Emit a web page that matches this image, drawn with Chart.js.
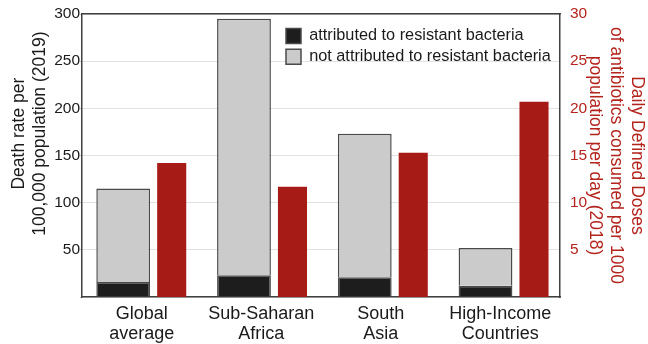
<!DOCTYPE html>
<html>
<head>
<meta charset="utf-8">
<script src="https://cdn.jsdelivr.net/npm/chart.js@4.4.1/dist/chart.umd.min.js"></script>
<style>
  html, body { margin: 0; padding: 0; background: #fff; }
  #wrap { width: 648px; height: 344px; }
</style>
</head>
<body>
<div id="wrap"><canvas id="chart"></canvas></div>
<script>
// data
const categories = [["Global", "average"], ["Sub-Saharan", "Africa"], ["South", "Asia"], ["High-Income", "Countries"]];
const resistantDeaths = [16, 23, 21, 12];     // black part
const otherDeaths = [99, 272, 152, 40];       // grey part, stacked on top
const antibioticDoses = [14.2, 11.7, 15.3, 20.7]; // red bars, right axis
const seriesNames = ["attributed to resistant bacteria", "not attributed to resistant bacteria", "antibiotic use"];

const font = "'Liberation Sans', Arial, sans-serif";
const red = "#b3241d";
const frame = "#404040";

// bars sit on a hidden numeric axis so each pair can be a bit right of the label
const points = (vals) => vals.map((v, i) => ({ x: i, y: v }));

// move the legend into the upper right of the plot
const legendMover = {
  id: "legendMover",
  afterLayout(chart) {
    const lg = chart.legend;
    const area = chart.chartArea;
    const w = lg.width;
    lg.left = area.left + 199.5;
    lg.right = lg.left + w;
    lg.top = area.top + 9.3;
    lg.bottom = lg.top + 60;
  }
};

// left title sits a little above the middle of the axis in the original
const leftPad = " ".repeat(9);

const ctx = document.getElementById("chart").getContext("2d");
new Chart(ctx, {
  type: "bar",
  data: {
    labels: categories,
    datasets: [
      {
        label: seriesNames[0],
        data: points(resistantDeaths),
        backgroundColor: "#1d1d1d",
        borderColor: "#4a4a4a",
        borderWidth: 1.5,
        stack: "deaths",
        xAxisID: "xb",
        yAxisID: "y",
        categoryPercentage: 0.803,
        barPercentage: 1.11
      },
      {
        label: seriesNames[1],
        data: points(otherDeaths),
        backgroundColor: "#cbcbcb",
        borderColor: "#4a4a4a",
        borderWidth: 1.5,
        stack: "deaths",
        xAxisID: "xb",
        yAxisID: "y",
        categoryPercentage: 0.803,
        barPercentage: 1.11
      },
      {
        label: seriesNames[2],
        data: points(antibioticDoses),
        backgroundColor: "#a71b17",
        borderWidth: 0,
        stack: "doses",
        xAxisID: "xb",
        yAxisID: "y2",
        categoryPercentage: 0.803,
        barPercentage: 0.6
      }
    ]
  },
  options: {
    responsive: true,
    maintainAspectRatio: false,
    animation: false,
    layout: { padding: 0 },
    plugins: {
      tooltip: { enabled: false },
      legend: {
        position: "chartArea",
        align: "start",
        labels: {
          boxWidth: 15,
          boxHeight: 15,
          padding: 4.5,
          color: "#1a1a1a",
          font: { family: font, size: 16.3, lineHeight: 1 },
          filter: (item) => item.datasetIndex < 2
        }
      }
    },
    scales: {
      xb: {
        type: "linear",
        display: false,
        offset: false,
        min: -0.542,
        max: 3.416,
        afterBuildTicks: (s) => { s.ticks = [0, 1, 2, 3].map((v) => ({ value: v })); }
      },
      x: {
        type: "category",
        position: "bottom",
        grid: { display: false },
        border: { display: true, color: frame, width: 1.5 },
        ticks: {
          color: "#1a1a1a",
          padding: -1,
          maxRotation: 0,
          autoSkip: false,
          font: { family: font, size: 18, lineHeight: 1.12 }
        },
        afterFit: (s) => { s.height = 47; }
      },
      xTop: {
        type: "category",
        position: "top",
        grid: { display: false },
        border: { display: true, color: frame, width: 1.5 },
        ticks: { display: false },
        afterFit: (s) => { s.height = 14; }
      },
      y: {
        type: "linear",
        position: "left",
        min: 0,
        max: 300,
        grid: { color: "#e2e2e2", tickColor: "#c4c4c4", tickLength: 2 },
        border: { display: true, color: frame, width: 1.5 },
        ticks: {
          stepSize: 50,
          padding: 0,
          color: "#1a1a1a",
          font: { family: font, size: 15.5 },
          callback: (v) => (v === 0 ? "" : v)
        },
        title: {
          display: true,
          text: [leftPad + "Death rate per", leftPad + "100,000 population (2019)"],
          color: "#1a1a1a",
          padding: { top: 9, bottom: 0 },
          font: { family: font, size: 17.5, lineHeight: 1.2 }
        },
        afterFit: (s) => { s.width = 82; }
      },
      y2: {
        type: "linear",
        position: "right",
        min: 0,
        max: 30,
        grid: { display: false },
        border: { display: true, color: frame, width: 1.5 },
        ticks: {
          stepSize: 5,
          padding: 2,
          color: red,
          font: { family: font, size: 15.5 },
          callback: (v) => (v === 0 ? "" : v)
        },
        title: {
          display: true,
          text: ["Daily Defined Doses", "of antibiotics consumed per 1000", "population per day (2018)"],
          color: red,
          padding: { top: 1, bottom: 0 },
          font: { family: font, size: 17.5, lineHeight: 1.2 }
        },
        afterFit: (s) => { s.width = 88; }
      }
    }
  },
  plugins: [legendMover]
});
</script>
</body>
</html>
